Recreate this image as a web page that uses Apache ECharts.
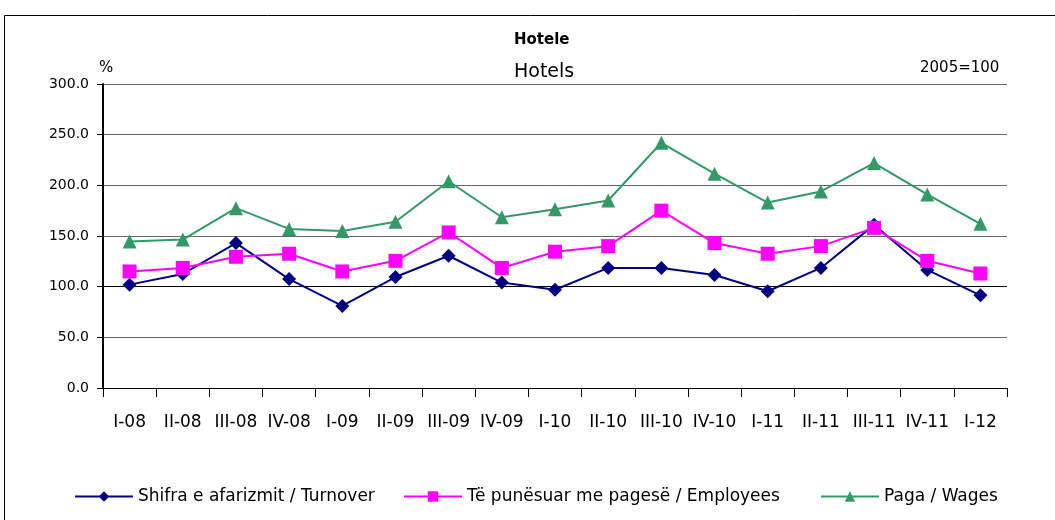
<!DOCTYPE html>
<html>
<head>
<meta charset="utf-8">
<script src="https://cdn.jsdelivr.net/npm/echarts@6/dist/echarts.min.js"></script>
<style>
html, body { margin: 0; padding: 0; background: #fff; }
#chart { width: 1055px; height: 520px; }
</style>
</head>
<body>
<div id="chart"></div>
<script>
// quarters, 2005=100
var categories = ['I-08', 'II-08', 'III-08', 'IV-08', 'I-09', 'II-09', 'III-09', 'IV-09', 'I-10', 'II-10', 'III-10', 'IV-10', 'I-11', 'II-11', 'III-11', 'IV-11', 'I-12'];
var turnover = [102, 112.5, 143, 107.5, 81, 109.5, 130.5, 104, 97, 118.5, 118.5, 111.5, 95.5, 118.5, 161, 116.5, 91.5];
var employees = [115, 118.5, 129.5, 132.5, 115, 125.5, 153.5, 118.5, 134.5, 140, 175, 143, 132.5, 140, 158, 125.5, 113];
var wages = [144.5, 146.5, 177.5, 157, 155, 164, 204, 168.5, 176.5, 185, 242, 211.5, 183, 194, 222, 191, 162];
var seriesNames = ['Shifra e afarizmit / Turnover', 'Të punësuar me pagesë / Employees', 'Paga / Wages'];

var font = 'DejaVu Sans, sans-serif';
var chart = echarts.init(document.getElementById('chart'));

function lineSeries(name, data, color, symbol, size) {
    return {
        name: name,
        type: 'line',
        data: data,
        symbol: symbol,
        symbolSize: size,
        showAllSymbol: true,
        lineStyle: { color: color, width: 2 },
        itemStyle: { color: color },
        emphasis: { disabled: true },
        z: 3
    };
}

var series = [
    lineSeries(seriesNames[0], turnover, '#000080', 'diamond', 14),
    lineSeries(seriesNames[1], employees, '#ff00ff', 'rect', 14),
    lineSeries(seriesNames[2], wages, '#339966', 'triangle', 14)
];
// the 100 gridline is drawn black
series[0].markLine = {
    silent: true,
    symbol: 'none',
    label: { show: false },
    lineStyle: { color: '#000', width: 1, type: 'solid' },
    data: [{ yAxis: 100 }],
    z: 1
};

// one legend per item so each can sit where the original has it
var legendLeft = [69, 398, 815];
var legends = seriesNames.map(function (n, i) {
    return {
        top: 483,
        left: legendLeft[i],
        itemWidth: 58,
        itemHeight: 13,
        textStyle: { fontSize: 17, color: '#000', fontFamily: font },
        data: [{ name: n }]
    };
});

chart.setOption({
    animation: false,
    textStyle: { fontFamily: font },
    grid: { left: 103, right: 48, top: 84, bottom: 132 },
    graphic: [
        { type: 'rect', shape: { x: 4.5, y: 15.5, width: 1060, height: 520 }, style: { fill: 'none', stroke: '#000', lineWidth: 1 }, z: -1 },
        { type: 'text', x: 514, y: 33, style: { text: 'Hotele', font: 'bold 15px ' + font, fill: '#000' } },
        { type: 'text', x: 514, y: 63, style: { text: 'Hotels', font: '19px ' + font, fill: '#000' } },
        { type: 'text', x: 99, y: 61, style: { text: '%', font: '15px ' + font, fill: '#000' } },
        { type: 'text', x: 920, y: 61, style: { text: '2005=100', font: '15px ' + font, fill: '#000' } }
    ],
    legend: legends,
    xAxis: {
        type: 'category',
        data: categories,
        boundaryGap: true,
        axisLine: { lineStyle: { color: '#000', width: 1 } },
        axisTick: { show: true, length: 9, lineStyle: { color: '#000' } },
        axisLabel: { color: '#000', fontSize: 17, margin: 26, interval: 0 }
    },
    yAxis: {
        type: 'value',
        min: 0,
        max: 300,
        interval: 50,
        axisLine: { show: true, lineStyle: { color: '#000', width: 2 } },
        axisTick: { show: true, length: 6, lineStyle: { color: '#000' } },
        axisLabel: { color: '#000', fontSize: 14, margin: 14, formatter: function (v) { return v.toFixed(1); } },
        splitLine: { show: true, lineStyle: { color: '#666', width: 1 } }
    },
    series: series
});
</script>
</body>
</html>
